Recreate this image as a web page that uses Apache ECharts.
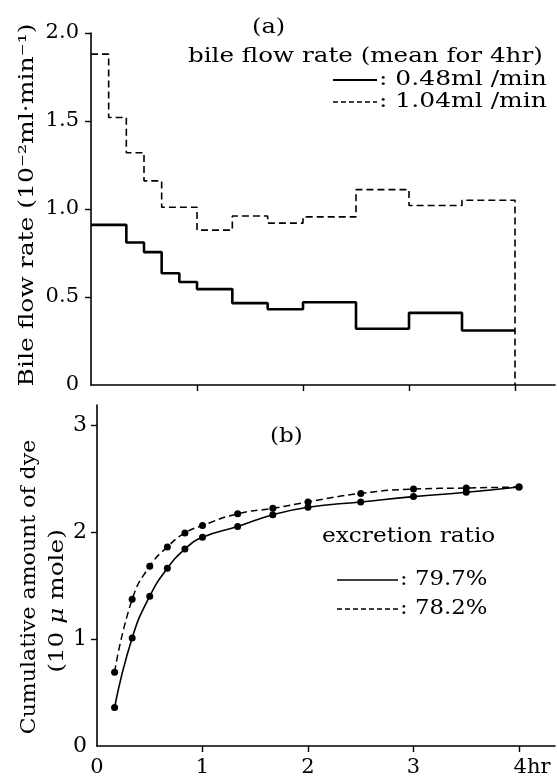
<!DOCTYPE html>
<html><head><meta charset="utf-8">
<script src="https://cdn.jsdelivr.net/npm/echarts@6/dist/echarts.min.js"></script>
<style>html,body{margin:0;padding:0;background:#fff}#c{width:557px;height:778px}</style>
</head><body><div id="c"></div>
<script>
// ---- data ----
var solidEdges = [0, 1/3, 0.5, 2/3, 5/6, 1, 4/3, 5/3, 2, 2.5, 3, 3.5, 4];
var solidRates = [0.91, 0.81, 0.755, 0.635, 0.585, 0.545, 0.465, 0.43, 0.47, 0.32, 0.41, 0.31];
var dashedEdges = [0, 1/6, 1/3, 0.5, 2/3, 1, 4/3, 5/3, 2, 2.5, 3, 3.5, 4];
var dashedRates = [1.88, 1.52, 1.32, 1.16, 1.01, 0.88, 0.96, 0.92, 0.955, 1.11, 1.02, 1.05];
var times = [1/6, 1/3, 0.5, 2/3, 5/6, 1, 4/3, 5/3, 2, 2.5, 3, 3.5, 4];
var solidCum = [0.36, 1.01, 1.40, 1.66, 1.84, 1.95, 2.05, 2.16, 2.23, 2.28, 2.33, 2.37, 2.42];
var dashedCum = [0.69, 1.37, 1.68, 1.86, 1.99, 2.06, 2.17, 2.22, 2.28, 2.36, 2.40, 2.41, 2.42];
var topYTicks = [0, 0.5, 1.0, 1.5, 2.0];
var botYTicks = [0, 1, 2, 3];
var xTicks = [0, 1, 2, 3, 4];
var xTickLabels = ['0', '1', '2', '3', '4hr'];

var F = 'DejaVu Serif';
function stepData(edges, rates, drop) {
  var d = [];
  for (var i = 0; i < rates.length; i++) d.push([edges[i], rates[i]]);
  d.push([edges[edges.length - 1], rates[rates.length - 1]]);
  if (drop) d.push([edges[edges.length - 1], 0]);
  return d;
}
function pairs(xs, ys) { return xs.map(function (x, i) { return [x, ys[i]]; }); }
function txt(s, x, y, sx, size, extra) {
  var st = {text: s, font: (size || 20) + 'px "DejaVu Serif"', fill: '#000', align: 'left', verticalAlign: 'middle'};
  if (extra) for (var k in extra) st[k] = extra[k];
  return {type: 'text', x: x, y: y, scaleX: sx || 1, style: st};
}

var axisLine = {show: true, lineStyle: {color: '#000', width: 1.6}};
var chart = echarts.init(document.getElementById('c'), null, {renderer: 'canvas'});
chart.setOption({
  animation: false,
  backgroundColor: '#fff',
  grid: [
    {left: 91, top: 33, width: 464, height: 352},
    {left: 97, top: 405, width: 458, height: 343}
  ],
  xAxis: [
    {gridIndex: 0, type: 'value', min: 0, max: 464 / 106, axisLine: axisLine,
     axisTick: {show: true, inside: false, length: 6, customValues: [1, 2, 3, 4], lineStyle: {color: '#000', width: 1.4}},
     axisLabel: {show: false}, splitLine: {show: false}},
    {gridIndex: 1, type: 'value', min: 0, max: 458 / 105.5, axisLine: axisLine,
     axisTick: {show: true, inside: false, length: 6, customValues: [1, 2, 3, 4], lineStyle: {color: '#000', width: 1.4}},
     axisLabel: {show: true, customValues: xTicks, margin: 11, color: '#000', fontFamily: F, fontSize: 21,
       formatter: function (v) { var i = xTicks.indexOf(v); var s = i >= 0 ? xTickLabels[i] : ''; return i === 4 ? '{h|' + s + '}' : s; },
       rich: {h: {fontFamily: F, fontSize: 21, color: '#000', padding: [0, 0, 0, 26]}}},
     splitLine: {show: false}}
  ],
  yAxis: [
    {gridIndex: 0, type: 'value', min: 0, max: 2.0, interval: 0.5, axisLine: axisLine,
     axisTick: {show: true, inside: false, length: 6, lineStyle: {color: '#000', width: 1.4}, customValues: [0.5, 1, 1.5, 2]},
     axisLabel: {customValues: topYTicks, margin: 12, color: '#000', fontFamily: F, fontSize: 21,
       formatter: function (v) { return v === 0 ? '0' : v.toFixed(1); }},
     splitLine: {show: false}},
    {gridIndex: 1, type: 'value', min: 0, max: 343 / 107.67, axisLine: axisLine,
     axisTick: {show: true, inside: false, length: 6, lineStyle: {color: '#000', width: 1.4}, customValues: [1, 2, 3]},
     axisLabel: {customValues: botYTicks, margin: 10, color: '#000', fontFamily: F, fontSize: 22,
       formatter: function (v) { return String(v); }},
     splitLine: {show: false}}
  ],
  series: [
    {type: 'line', xAxisIndex: 0, yAxisIndex: 0, step: 'end', symbol: 'none',
     data: stepData(dashedEdges, dashedRates, true),
     lineStyle: {color: '#000', width: 1.6, type: [7, 4]}},
    {type: 'line', xAxisIndex: 0, yAxisIndex: 0, step: 'end', symbol: 'none',
     data: stepData(solidEdges, solidRates, false),
     lineStyle: {color: '#000', width: 2.6}},
    {type: 'line', xAxisIndex: 1, yAxisIndex: 1, smooth: 0.5,
     symbol: 'circle', symbolSize: 7, itemStyle: {color: '#000'},
     data: pairs(times, dashedCum), lineStyle: {color: '#000', width: 1.5, type: [7, 4]}},
    {type: 'line', xAxisIndex: 1, yAxisIndex: 1, smooth: 0.5,
     symbol: 'circle', symbolSize: 7, itemStyle: {color: '#000'},
     data: pairs(times, solidCum), lineStyle: {color: '#000', width: 1.6}}
  ],
  graphic: [
    txt('(a)', 252, 28, 1.15, 21),
    txt('bile flow rate (mean for 4hr)', 188, 57, 1.23, 20),
    {type: 'line', shape: {x1: 333, y1: 80, x2: 377, y2: 80}, style: {stroke: '#000', lineWidth: 1.8}},
    txt(': 0.48ml /min', 379, 80, 1.25, 20),
    {type: 'line', shape: {x1: 333, y1: 102, x2: 377, y2: 102}, style: {stroke: '#000', lineWidth: 1.4, lineDash: [5, 3]}},
    txt(': 1.04ml /min', 379, 102, 1.25, 20),
    {type: 'text', x: 28, y: 205, rotation: Math.PI / 2, scaleX: 1.19,
     style: {text: 'Bile flow rate (10⁻²ml·min⁻¹)', font: '21px "DejaVu Serif"', fill: '#000', align: 'center', verticalAlign: 'middle'}},
    txt('(b)', 270, 437, 1.1, 21),
    txt('excretion ratio', 322, 537, 1.16, 20),
    {type: 'line', shape: {x1: 337, y1: 580, x2: 398, y2: 580}, style: {stroke: '#000', lineWidth: 1.6}},
    txt(': 79.7%', 400, 580, 1.14, 20),
    {type: 'line', shape: {x1: 337, y1: 609, x2: 398, y2: 609}, style: {stroke: '#000', lineWidth: 1.4, lineDash: [5, 3]}},
    txt(': 78.2%', 400, 609, 1.14, 20),
    {type: 'text', x: 30, y: 587, rotation: Math.PI / 2, scaleX: 1.05,
     style: {text: 'Cumulative amount of dye', font: '21px "DejaVu Serif"', fill: '#000', align: 'center', verticalAlign: 'middle'}},
    {type: 'text', x: 58, y: 601, rotation: Math.PI / 2, scaleX: 1.18,
     style: {text: '(10 {i|μ} mole)', font: '21px "DejaVu Serif"', fill: '#000', align: 'center', verticalAlign: 'middle',
       rich: {i: {font: 'italic 21px "DejaVu Serif"', fill: '#000'}}}}
  ]
});
</script></body></html>
